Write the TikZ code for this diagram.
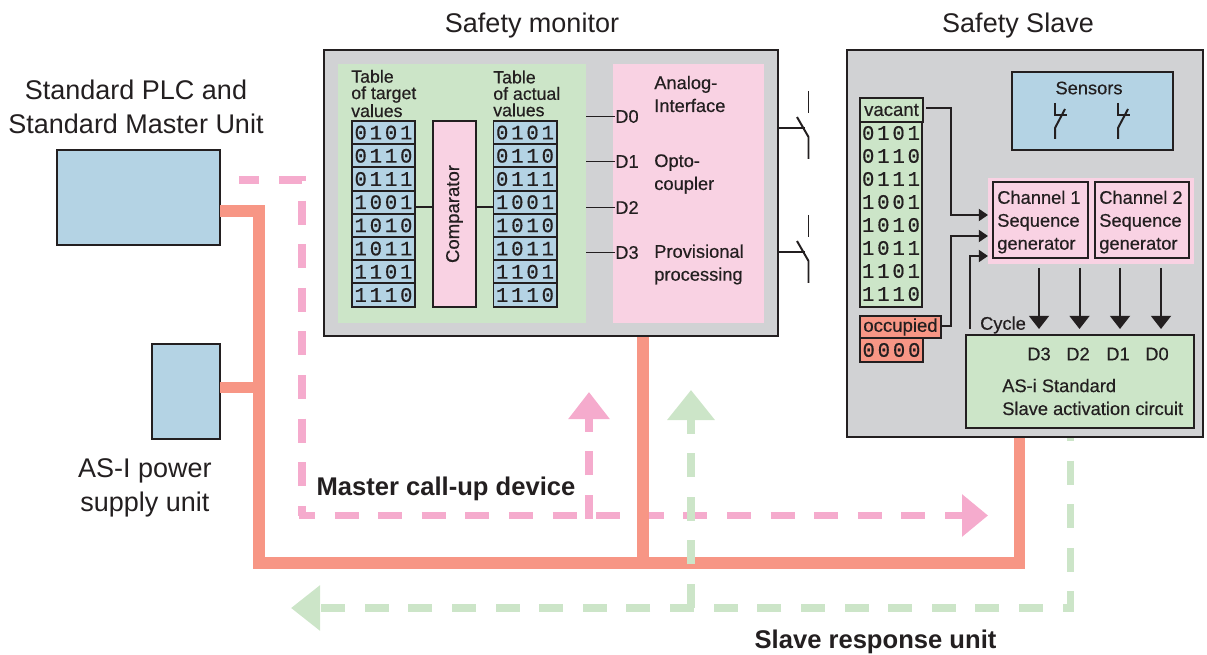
\documentclass[tikz,border=0pt]{standalone}
\usepackage{fontspec}
\usepackage{tikz}
\usetikzlibrary{arrows.meta}
\setmainfont{Liberation Sans}
\newfontfamily\inkfont[FakeBold=0.4]{Liberation Sans}
\newfontfamily\bitfont[LetterSpace=14,FakeBold=0.5]{Liberation Mono}
\definecolor{ink}{HTML}{231F20}
\definecolor{case}{HTML}{D1D2D4}
\definecolor{mint}{HTML}{CCE5C8}
\definecolor{blush}{HTML}{F9D2E3}
\definecolor{sky}{HTML}{B4D3E4}
\definecolor{salmon}{HTML}{F79685}
\definecolor{rose}{HTML}{F5ABCD}
\tikzset{casebox/.style={draw=ink,fill=case,line width=1.6pt,rectangle,inner sep=0pt}}
\tikzset{panel/.style={fill=#1,rectangle,inner sep=0pt}}
\tikzset{unitbox/.style={draw=ink,fill=#1,line width=1.4pt,rectangle,inner sep=0pt}}
\tikzset{bitrow/.style={unitbox=sky,minimum width=1.575cm,minimum height=0.58cm,text=ink,font=\bitfont\fontsize{14.6}{16}\selectfont}}
\tikzset{bitplain/.style={text=ink,inner sep=0pt,font=\bitfont\fontsize{14.6}{16}\selectfont}}
\tikzset{tabletext/.style={text=ink,inner sep=0pt,align=left,anchor=west,font=\inkfont\fontsize{12.6}{11.7}\selectfont}}
\tikzset{smalltext/.style={text=ink,inner sep=0pt,align=left,anchor=west,font=\inkfont\fontsize{13}{16.3}\selectfont}}
\tikzset{bigtext/.style={text=ink,inner sep=0pt,align=center,font=\fontsize{19.2}{24}\selectfont}}
\tikzset{boldtext/.style={text=ink,inner sep=0pt,font=\bfseries\fontsize{18.2}{22}\selectfont}}
\tikzset{wire/.style={draw=ink,line width=1.4pt}}
\tikzset{feed/.style={wire,-{Triangle[length=0.23cm,width=0.3cm]}}}
\tikzset{cycle/.style={wire,-{Triangle[length=0.33cm,width=0.5cm]}}}
\tikzset{bus/.style={draw=salmon,line width=8.5pt}}
\tikzset{callup/.style={draw=rose,line width=5pt,dash pattern=on 0.6cm off 0.49cm}}
\tikzset{reply/.style={draw=mint,line width=5pt,dash pattern=on 0.6cm off 0.49cm}}
\begin{document}
\begin{tikzpicture}[x=0.025cm,y=-0.025cm]
    \useasboundingbox (0,0) rectangle (1207,655);

    % free ends of the bus and of the dashed paths
    \coordinate (plcbus) at (220,211);
    \coordinate (powerbus) at (220,387.5);
    \coordinate (plccall) at (239,180);
    \coordinate (callcorner) at (302,515.5);
    \coordinate (callstart) at (298.5,515.5);
    \coordinate (calltip) at (988,515.5);
    \coordinate (calluptip) at (589,392);
    \coordinate (callupfoot) at (589,519);
    \coordinate (replytop) at (1070,437);
    \coordinate (replycorner) at (1070,608);
    \coordinate (replytip) at (291,608);
    \coordinate (replyuptip) at (691,390);
    \coordinate (replyupfoot) at (691,608);
    \coordinate (monitorbus) at (643,336);
    \coordinate (slavebus) at (1019.5,437);

    % titles
    \node[bigtext] (monitortitle) at (532,26) {Safety monitor};
    \node[bigtext] (slavetitle) at (1018,26) {Safety Slave};
    \node[bigtext] (plctitle) at (136,107) {Standard PLC and\\Standard Master Unit};
    \node[bigtext] (powertitle) at (145,488) {AS-I power\\supply unit};

    % units on the left
    \node[unitbox=sky,minimum width=4.075cm,minimum height=2.375cm] (plc) at (138.5,197.5) {};
    \node[unitbox=sky,minimum width=1.7cm,minimum height=2.375cm] (power) at (186,391.5) {};

    % dashed paths, bus
    \draw[callup,dash phase=0.09cm] (plccall) -| (callcorner);
    \draw[callup,dash phase=0.19cm,-{Triangle[length=0.65cm,width=1.025cm]}] (callstart) -- (calltip);
    \draw[callup,-{Triangle[length=0.68cm,width=1cm]}] (callupfoot) -- (calluptip);
    \draw[bus] (plcbus) -| (259,563) -| (slavebus);
    \draw[bus] (powerbus) -- (259,387.5);
    \draw[bus] (monitorbus) -- (643,563);
    \draw[reply,dash phase=0.5cm,-{Triangle[length=0.73cm,width=1.1cm]}] (replytop) -- (replycorner) -- (replytip);
    \draw[reply,-{Triangle[length=0.75cm,width=1.15cm]}] (replyupfoot) -- (replyuptip);

    \node[boldtext] (calluplabel) at (446,489) {Master call-up device};
    \node[boldtext] (replylabel) at (875.5,642) {Slave response unit};

    % safety monitor
    \node[casebox,minimum width=11.35cm,minimum height=7.15cm] (monitor) at (551,193) {};
    \node[panel=mint,minimum width=6.2cm,minimum height=6.475cm] (logic) at (462,193.5) {};
    \node[panel=blush,minimum width=3.775cm,minimum height=6.475cm] (output) at (688.5,193.5) {};

    \node[tabletext] (targethead) at (351,93.5) {Table\\of target\\values};
    \node[tabletext] (actualhead) at (493,93.5) {Table\\of actual\\values};

    \node[bitrow] (target1) at (383.5,132.6) {0101};
    \node[bitrow] (target2) at (383.5,155.8) {0110};
    \node[bitrow] (target3) at (383.5,179) {0111};
    \node[bitrow] (target4) at (383.5,202.2) {1001};
    \node[bitrow] (target5) at (383.5,225.4) {1010};
    \node[bitrow] (target6) at (383.5,248.6) {1011};
    \node[bitrow] (target7) at (383.5,271.8) {1101};
    \node[bitrow] (target8) at (383.5,295) {1110};

    \node[bitrow] (actual1) at (525,132.6) {0101};
    \node[bitrow] (actual2) at (525,155.8) {0110};
    \node[bitrow] (actual3) at (525,179) {0111};
    \node[bitrow] (actual4) at (525,202.2) {1001};
    \node[bitrow] (actual5) at (525,225.4) {1010};
    \node[bitrow] (actual6) at (525,248.6) {1011};
    \node[bitrow] (actual7) at (525,271.8) {1101};
    \node[bitrow] (actual8) at (525,295) {1110};

    \node[unitbox=blush,rotate=90,minimum width=4.65cm,minimum height=1.075cm,text=ink,font=\inkfont\fontsize{13.2}{16}\selectfont] (comparator) at (454.5,214) {Comparator};

    \draw[wire] (target4.east |- 0,207) -- (comparator.north |- 0,207);
    \draw[wire] (comparator.south |- 0,207) -- (actual4.west |- 0,207);

    \node[smalltext] (d0) at (615,116.5) {D0};
    \node[smalltext] (d1) at (615,161.5) {D1};
    \node[smalltext] (d2) at (615,207.5) {D2};
    \node[smalltext] (d3) at (615,252.5) {D3};
    \draw[wire] (logic.east |- d0) -- (d0);
    \draw[wire] (logic.east |- d1) -- (d1);
    \draw[wire] (logic.east |- d2) -- (d2);
    \draw[wire] (logic.east |- d3) -- (d3);

    \node[smalltext] (analog) at (654,94) {Analog-\\Interface};
    \node[smalltext] (opto) at (654,174) {Opto-\\coupler};
    \node[smalltext] (provisional) at (654,264.5) {Provisional\\processing};

    % outputs of the monitor
    \coordinate (relay1) at (monitor.east |- 0,128);
    \coordinate (relay2) at (monitor.east |- 0,252);
    \draw[wire] (relay1) -- (805,128);
    \draw[wire] (797,117) -- (808.5,137) -- (808.5,159);
    \draw[wire] (808.5,91) -- (808.5,113);
    \draw[wire] (relay2) -- (805,252);
    \draw[wire] (797,241) -- (808.5,261) -- (808.5,283);
    \draw[wire] (808.5,215) -- (808.5,237);

    % safety slave
    \node[casebox,minimum width=8.9cm,minimum height=9.675cm] (slave) at (1025,243.5) {};

    \node[unitbox=sky,minimum width=4.025cm,minimum height=1.95cm] (sensors) at (1092.5,111) {};
    \node[text=ink,inner sep=0pt,font=\inkfont\fontsize{13}{16}\selectfont] (sensortext) at (1089,88) {Sensors};
    \draw[wire] (1055,103) -- (1055,115) -- (1067,115);
    \draw[wire] (1065,109) -- (1055,128) -- (1055,139);
    \draw[wire] (1118,103) -- (1118,115) -- (1130,115);
    \draw[wire] (1128,109) -- (1118,128) -- (1118,139);

    \node[unitbox=mint,minimum width=1.575cm,minimum height=0.6cm,text=ink,font=\inkfont\fontsize{13.2}{16}\selectfont] (vacant) at (891.5,110) {\raisebox{-1pt}{vacant}};
    \node[unitbox=mint,minimum width=1.55cm,minimum height=4.625cm] (vacantbits) at (891,214.5) {};
    \node[bitplain] (vbit1) at (891,133) {0101};
    \node[bitplain] (vbit2) at (891,156) {0110};
    \node[bitplain] (vbit3) at (891,179) {0111};
    \node[bitplain] (vbit4) at (891,202) {1001};
    \node[bitplain] (vbit5) at (891,225) {1010};
    \node[bitplain] (vbit6) at (891,248) {1011};
    \node[bitplain] (vbit7) at (891,271) {1101};
    \node[bitplain] (vbit8) at (891,294) {1110};

    \node[unitbox=salmon,minimum width=2.025cm,minimum height=0.55cm,text=ink,font=\inkfont\fontsize{13.2}{16}\selectfont] (occupied) at (900.5,327) {\raisebox{-1.5pt}{occupied}};
    \node[unitbox=salmon,minimum width=1.575cm,minimum height=0.6cm,text=ink,font=\bitfont\fontsize{14.6}{16}\selectfont] (zeros) at (891.5,350) {0000};

    \node[panel=blush,minimum width=5.15cm,minimum height=2.15cm] (generators) at (1091,221) {};
    \node[unitbox=blush,minimum width=2.375cm,minimum height=1.9cm] (channel1) at (1040.5,220) {};
    \node[unitbox=blush,minimum width=2.35cm,minimum height=1.9cm] (channel2) at (1142,220) {};
    \node[smalltext] (channel1text) at (997,222) {Channel 1\\Sequence\\generator};
    \node[smalltext] (channel2text) at (1099,222) {Channel 2\\Sequence\\generator};

    \node[unitbox=mint,minimum width=5.7cm,minimum height=2.325cm] (activation) at (1080,381.5) {};
    \node[smalltext,anchor=center] (d3in) at (1039,354) {D3};
    \node[smalltext,anchor=center] (d2in) at (1078,354) {D2};
    \node[smalltext,anchor=center] (d1in) at (1118,354) {D1};
    \node[smalltext,anchor=center] (d0in) at (1157,354) {D0};
    \node[smalltext] (activationtext) at (1002,397) {AS-i Standard\\Slave activation circuit};
    \node[smalltext,anchor=center] (cycletext) at (1003,325) {Cycle};

    \coordinate (vacantout) at (926,108);
    \coordinate (in1) at (988,215);
    \coordinate (in2) at (988,236);
    \coordinate (in3) at (988,256);
    \coordinate (cycleout) at (969.5,329);
    \draw[feed] (vacantout) -| (951,215) -- (in1);
    \draw[feed] (occupied.east |- 0,326) -| (951,236) -- (in2);
    \draw[feed] (cycleout) |- (in3);

    \coordinate (gen3) at (1039,268);
    \coordinate (gen2) at (1079.5,268);
    \coordinate (gen1) at (1120,268);
    \coordinate (gen0) at (1161,268);
    \draw[cycle] (gen3) -- (1039,329);
    \draw[cycle] (gen2) -- (1079.5,329);
    \draw[cycle] (gen1) -- (1120,329);
    \draw[cycle] (gen0) -- (1161,329);
\end{tikzpicture}
\end{document}
